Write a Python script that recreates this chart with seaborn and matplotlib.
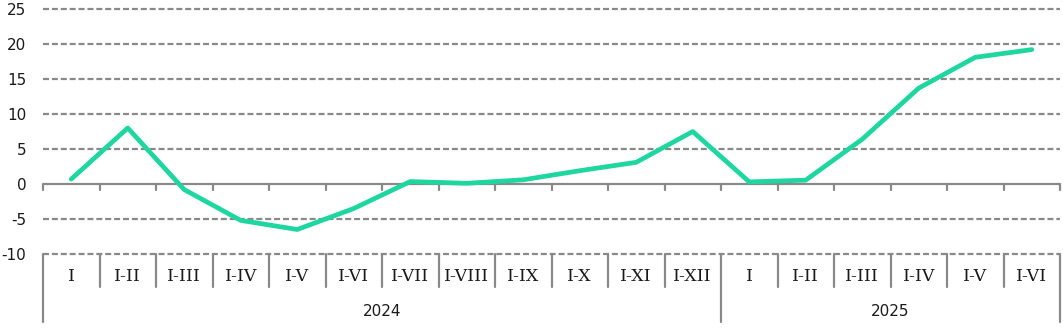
import matplotlib
matplotlib.use("Agg")
import matplotlib.pyplot as plt
import matplotlib.transforms as mtransforms
import seaborn as sns
import pandas as pd

years = ["2024"] * 12 + ["2025"] * 6
periods = ["I", "I-II", "I-III", "I-IV", "I-V", "I-VI", "I-VII", "I-VIII",
           "I-IX", "I-X", "I-XI", "I-XII",
           "I", "I-II", "I-III", "I-IV", "I-V", "I-VI"]
values = [0.7, 8.0, -0.8, -5.2, -6.5, -3.5, 0.35, 0.1, 0.6, 1.9, 3.1, 7.5,
          0.3, 0.55, 6.4, 13.7, 18.1, 19.2]
y_ticks = [-10, -5, 0, 5, 10, 15, 20, 25]

sns.set_theme(style="white")
plt.rcParams["font.family"] = ["DejaVu Sans"]

df = pd.DataFrame({"key": [f"{y} {p}" for y, p in zip(years, periods)],
                   "value": values})

fig = plt.figure(figsize=(10.63, 3.35), dpi=100)
ax = fig.add_axes([43 / 1063, 1 - 254 / 335, (1060 - 43) / 1063, 245 / 335])

grid_color = "#898989"
glw = 1.6
for yv in y_ticks:
    if yv == 0:
        continue
    ax.axhline(yv, color=grid_color, lw=glw, dashes=(2.7, 1.3), zorder=1,
               clip_on=False)
ax.axhline(0, color=grid_color, lw=glw, zorder=1)

sns.lineplot(data=df, x="key", y="value", sort=False, ax=ax,
             color="#1ED6A0", lw=3.4, zorder=3)

n = len(periods)
ax.set_xlim(-0.5, n - 0.5)
ax.set_ylim(-10, 25)
ax.set_yticks(y_ticks)
ax.set_yticklabels([str(v) for v in y_ticks], fontsize=11, color="#1a1a1a")
ax.tick_params(axis="y", length=0, pad=12)
ax.set_xticks([])
ax.set_xlabel("")
ax.set_ylabel("")
for s in ax.spines.values():
    s.set_visible(False)

# tick marks under zero line
for b in range(n + 1):
    ax.plot([b - 0.5, b - 0.5], [0, -0.85], color=grid_color, lw=glw,
            clip_on=False, zorder=1)

trans = mtransforms.blended_transform_factory(ax.transData, ax.transAxes)
year_bounds = [0]
for i in range(1, n):
    if years[i] != years[i - 1]:
        year_bounds.append(i)
year_bounds.append(n)

for b in range(n + 1):
    long = b in year_bounds
    ax.plot([b - 0.5, b - 0.5], [0, -0.2776 if long else -0.1347],
            transform=trans, color=grid_color, lw=glw, clip_on=False)

for i, p in enumerate(periods):
    ax.text(i, -0.09, p, transform=trans, ha="center", va="center",
            fontsize=12.5, color="#1a1a1a", family="DejaVu Serif")

for k in range(len(year_bounds) - 1):
    a, b = year_bounds[k], year_bounds[k + 1]
    ax.text((a + b - 1) / 2, -0.233, years[a], transform=trans,
            ha="center", va="center", fontsize=11, color="#1a1a1a")

fig.savefig("out.png", dpi=100)
